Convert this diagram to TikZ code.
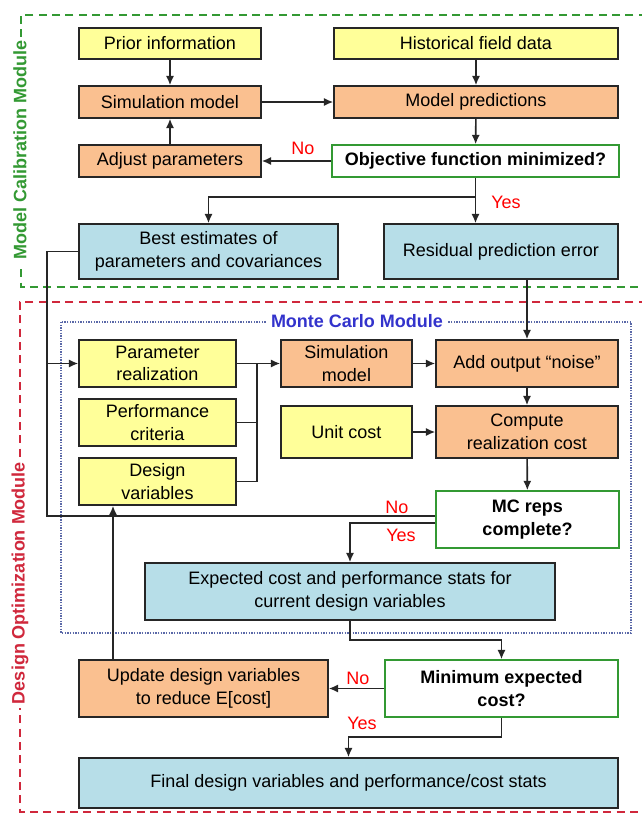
\documentclass[tikz,border=0pt]{standalone}
\usepackage{fontspec}
\setmainfont{Liberation Sans}
\usetikzlibrary{arrows.meta}
\definecolor{boxyellow}{HTML}{FFFF99}
\definecolor{boxorange}{HTML}{FAC090}
\definecolor{boxteal}{HTML}{B7DEE8}
\definecolor{decgreen}{HTML}{339933}
\definecolor{modred}{HTML}{D0283C}
\definecolor{mcblue}{HTML}{3333CC}
\definecolor{mcframe}{HTML}{5A68A8}
\tikzset{%
    box/.style={draw=black!85,line width=1.1pt,inner sep=2pt,align=center,font=\fontsize{13.5}{17}\selectfont},
    sz/.style 2 args={minimum width=#1*0.75pt,minimum height=#2*0.75pt}
}

\begin{document}
\begin{tikzpicture}[x=0.75pt,y=-0.75pt,
    ybox/.style={box,fill=boxyellow},
    obox/.style={box,fill=boxorange},
    tbox/.style={box,fill=boxteal},
    qbox/.style={box,draw=decgreen,fill=white,font=\fontsize{13.5}{17}\selectfont\bfseries},
    ln/.style={draw=black!85,line width=1.2pt},
    arr/.style={ln,-{Latex[length=7pt,width=6pt]}},
    ans/.style={text=red,font=\fontsize{13.5}{15}\selectfont},
    modlbl/.style={fill=white,rotate=90,inner sep=3pt,font=\fontsize{13.5}{15}\selectfont\bfseries}]
        \useasboundingbox (0,0) rectangle (642,815);
        \clip (0,0) rectangle (642,815);

        % module frames
        \draw[decgreen,line width=1.1pt,dash pattern=on 6pt off 4pt] (660,15) -- (21,15) -- (21,287) -- (660,287);
        \node[modlbl,text=decgreen] (mcal) at (20,150){Model Calibration Module};
        \draw[modred,line width=1.1pt,dash pattern=on 6pt off 4pt] (660,302) -- (20,302) -- (20,812) -- (660,812);
        \node[modlbl,text=modred] (dopt) at (20,583){Design Optimization Module};
        \draw[mcframe,line width=0.9pt,dash pattern=on 1pt off 1pt] (61,322) rectangle (631,633);
        \node[fill=white,inner sep=3pt,text=mcblue,font=\fontsize{13.5}{15}\selectfont\bfseries] (mcmod) at (357,321){Monte Carlo Module};

        % calibration
        \node[ybox,sz={182}{31}] (prior) at (170,43.5){Prior information};
        \node[ybox,sz={284}{31}] (hist) at (476,43.5){Historical field data};
        \node[obox,sz={182}{32}] (sim) at (170,102){Simulation model};
        \node[obox,sz={284}{32}] (pred) at (476,102){Model predictions};
        \node[obox,sz={182}{32}] (adj) at (170,161){Adjust parameters};
        \node[qbox,sz={287}{32}] (obj) at (475.5,161){Objective function minimized?};
        \node[tbox,sz={259}{55}] (best) at (208.5,251.5){Best estimates of\\parameters and covariances};
        \node[tbox,sz={234}{55}] (resid) at (501,251.5){Residual prediction error};

        % monte carlo
        \node[ybox,sz={157}{47}] (par) at (157.5,363.5){Parameter\\realization};
        \node[ybox,sz={157}{47}] (perf) at (157.5,422.5){Performance\\criteria};
        \node[ybox,sz={157}{47}] (dvar) at (157.5,481.5){Design\\variables};
        \node[obox,sz={131}{47}] (simmc) at (346.5,363.5){Simulation\\model};
        \node[obox,sz={182}{47}] (noise) at (527,363.5){Add output “noise”};
        \node[ybox,sz={131}{52}] (unit) at (346.5,432){Unit cost};
        \node[obox,sz={182}{52}] (comp) at (527,432){Compute\\realization cost};
        \node[qbox,sz={183}{57}] (mc) at (527.5,519.5){MC reps\\complete?};
        \node[tbox,sz={410}{57}] (exp) at (350,591.5){Expected cost and performance stats for\\current design variables};

        % optimization
        \node[obox,sz={249}{57}] (upd) at (203.5,688.5){Update design variables\\to reduce E[cost]};
        \node[qbox,sz={233}{57}] (minc) at (501.5,688.5){Minimum expected\\cost?};
        \node[tbox,sz={539}{50}] (fin) at (348.5,783){Final design variables and performance/cost stats};

        \coordinate (lft) at (47,0);
        \coordinate (brk) at (257,0);
        \coordinate (upx) at (113,0);
        \coordinate (jn1) at (0,197);
        \coordinate (jn2) at (0,640);
        \coordinate (jn3) at (0,737);

        \path[]
            (prior) edge[arr] (sim)
            (hist) edge[arr] (pred)
            (sim) edge[arr] (pred)
            (pred) edge[arr] (obj)
            (obj) edge[arr] (adj)
            (adj) edge[arr] (sim)
            (par) edge[arr] (simmc)
            (simmc) edge[arr] (noise)
            (noise) edge[arr] (comp)
            (unit) edge[arr] (comp)
            (comp) edge[arr] (mc)
            (minc) edge[arr] (upd);

        \draw[arr] (obj.south) -- (obj.south |- resid.north);
        \draw[arr] (obj.south |- jn1) -| (best.north);
        \draw[arr] (best.west) -| (lft |- par.west) -- (par.west);
        \draw[ln] ([yshift=2.6pt]mc.west) -- ([yshift=2.6pt]mc.west -| lft) -- (lft |- par.west);
        \draw[arr] ([yshift=-2.6pt]mc.west) -| (exp.north);
        \draw[ln] (perf.east) -| (brk |- par.east);
        \draw[ln] (dvar.east) -| (brk |- par.east);
        \draw[arr] (resid.south -| noise.north) -- (noise.north);
        \draw[arr] (exp.south) -- (exp.south |- jn2) -| (minc.north);
        \draw[arr] (upd.north -| upx) -- (dvar.south -| upx);
        \draw[arr] (minc.south) -- (minc.south |- jn3) -| (fin.north);

        \node[ans] (no1) at (303,148){No};
        \node[ans] (yes1) at (506,202){Yes};
        \node[ans] (no2) at (397,507){No};
        \node[ans] (yes2) at (401,535){Yes};
        \node[ans] (no3) at (358,678){No};
        \node[ans] (yes3) at (362,723){Yes};
    \end{tikzpicture}
\end{document}
